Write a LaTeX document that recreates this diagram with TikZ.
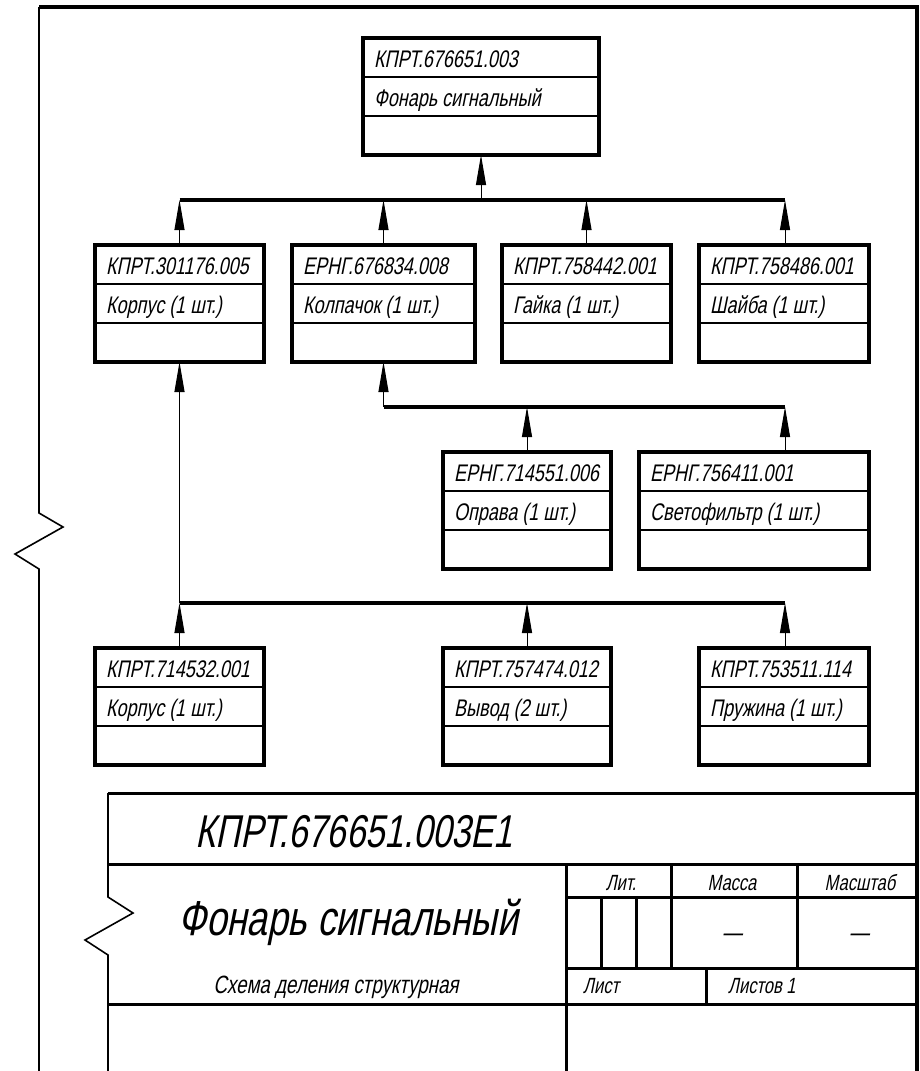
\documentclass[tikz,border=0pt]{standalone}
\usepackage{fontspec}
\newfontfamily\gost{Liberation Sans}[FakeSlant=0.2,FakeStretch=0.75]
\usetikzlibrary{arrows.meta}

% box of the structure: name, x, y, width, code, title
\newcommand{\sostav}[6]{%
  \node[blok, minimum width=#4, anchor=north west] (#1) at (#2,#3) {};
  \draw[razdel] ([yshift=-39pt]#1.north west) -- ([yshift=-39pt]#1.north east);
  \draw[razdel] ([yshift=-78pt]#1.north west) -- ([yshift=-78pt]#1.north east);
  \node[nadpis, anchor=base west] (#1-kod) at ([xshift=11pt,yshift=-29pt]#1.north west) {#5};
  \node[nadpis, anchor=base west] (#1-nazv) at ([xshift=11pt,yshift=-68pt]#1.north west) {#6};
}

\begin{document}
\begin{tikzpicture}[x=1pt, y=-1pt,
    blok/.style={draw, line width=3.5pt, inner sep=0pt, outer sep=0pt, minimum height=117pt},
    razdel/.style={line width=1.2pt},
    nadpis/.style={font=\gost\fontsize{24}{26}\selectfont, inner sep=0pt},
    shina/.style={line width=3.5pt},
    strelka/.style={line width=1pt, -{Triangle[length=30pt,width=10pt]}},
    ramka/.style={line width=4pt, line join=miter},
    osnova/.style={line width=3pt},
    tonkaya/.style={line width=1.6pt, line join=miter}]
    \useasboundingbox (0,0) rectangle (919,1071);

    % Frame
    \draw[ramka] (39,7) -- (917,7) -- (917,1071);
    \draw[tonkaya] (39,7) -- (39,513) -- (63,527) -- (15,554) -- (39,569) -- (39,1071);

    % Assembly
    \sostav{fonar}{363}{38}{236pt}{КПРТ.676651.003}{Фонарь сигнальный}

    % First level
    \sostav{korpus}{95}{245}{169pt}{КПРТ.301176.005}{Корпус (1 шт.)}
    \sostav{kolpachok}{292}{245}{183pt}{ЕРНГ.676834.008}{Колпачок (1 шт.)}
    \sostav{gaika}{502}{245}{169pt}{КПРТ.758442.001}{Гайка (1 шт.)}
    \sostav{shaiba}{699}{245}{170pt}{КПРТ.758486.001}{Шайба (1 шт.)}

    % Parts of the cap
    \sostav{oprava}{443}{452}{168pt}{ЕРНГ.714551.006}{Оправа (1 шт.)}
    \sostav{svetofiltr}{639}{452}{230pt}{ЕРНГ.756411.001}{Светофильтр (1 шт.)}

    % Parts of the body
    \sostav{korpusB}{95}{648}{169pt}{КПРТ.714532.001}{Корпус (1 шт.)}
    \sostav{vyvod}{443}{648}{168pt}{КПРТ.757474.012}{Вывод (2 шт.)}
    \sostav{pruzhina}{699}{648}{170pt}{КПРТ.753511.114}{Пружина (1 шт.)}

    % Buses
    \coordinate (sh1-l) at (179.5,200);
    \coordinate (sh1-r) at (785,200);
    \coordinate (sh2-l) at (383.5,407);
    \coordinate (sh2-r) at (785,407);
    \coordinate (sh3-l) at (179.5,603);
    \coordinate (sh3-r) at (785,603);
    \draw[shina] (sh1-l) -- (sh1-r);
    \draw[shina] (sh2-l) -- (sh2-r);
    \draw[shina] (sh3-l) -- (sh3-r);

    % Arrows
    \draw[strelka] (fonar.south |- sh1-l) -- (fonar.south);
    \draw[strelka] (korpus.north) -- (korpus.north |- sh1-l);
    \draw[strelka] (kolpachok.north) -- (kolpachok.north |- sh1-l);
    \draw[strelka] (gaika.north) -- (gaika.north |- sh1-l);
    \draw[strelka] (shaiba.north -| sh1-r) -- (sh1-r);

    \draw[strelka] (sh2-l) -- (kolpachok.south);
    \draw[strelka] (oprava.north) -- (oprava.north |- sh2-l);
    \draw[strelka] (svetofiltr.north -| sh2-r) -- (sh2-r);

    \draw[strelka] (sh3-l) -- (korpus.south);
    \draw[strelka] (korpusB.north) -- (korpusB.north |- sh3-l);
    \draw[strelka] (vyvod.north) -- (vyvod.north |- sh3-l);
    \draw[strelka] (pruzhina.north -| sh3-r) -- (sh3-r);

    % Title block
    \draw[tonkaya] (108,793) -- (108,897) -- (133,913) -- (85,940) -- (108,955) -- (108,1071);
    \draw[osnova] (108,793) -- (917,793);
    \draw[osnova] (108,864) -- (917,864);
    \draw[osnova] (108,1004) -- (917,1004);
    \draw[osnova] (566,864) -- (566,1071);
    \draw[osnova] (566,897) -- (917,897);
    \draw[osnova] (566,968) -- (917,968);
    \draw[osnova] (601,897) -- (601,968);
    \draw[osnova] (636,897) -- (636,968);
    \draw[osnova] (671,864) -- (671,968);
    \draw[osnova] (797,864) -- (797,968);
    \draw[osnova] (706,968) -- (706,1004);

    \node[nadpis, font=\gost\fontsize{46}{50}\selectfont, anchor=base west] (oboznachenie) at (195,847) {КПРТ.676651.003Е1};
    \node[nadpis, font=\gost\fontsize{49}{52}\selectfont, anchor=base west] (naimenovanie) at (178,935) {Фонарь сигнальный};
    \node[nadpis, font=\gost\fontsize{25}{27}\selectfont, anchor=base] (vid) at (336,993) {Схема деления структурная};
    \node[nadpis, font=\gost\fontsize{22}{24}\selectfont, anchor=base] (lit) at (621,890) {Лит.};
    \node[nadpis, font=\gost\fontsize{22}{24}\selectfont, anchor=base] (massa) at (732,890) {Масса};
    \node[nadpis, font=\gost\fontsize{22}{24}\selectfont, anchor=base] (masshtab) at (860,890) {Масштаб};
    \node[nadpis, font=\gost\fontsize{26}{28}\selectfont] (massa-zn) at (732,938) {—};
    \node[nadpis, font=\gost\fontsize{26}{28}\selectfont] (masshtab-zn) at (859,938) {—};
    \node[nadpis, font=\gost\fontsize{22}{24}\selectfont, anchor=base west] (list) at (583,993) {Лист};
    \node[nadpis, font=\gost\fontsize{22}{24}\selectfont, anchor=base west] (listov) at (728,993) {Листов 1};
\end{tikzpicture}
\end{document}
